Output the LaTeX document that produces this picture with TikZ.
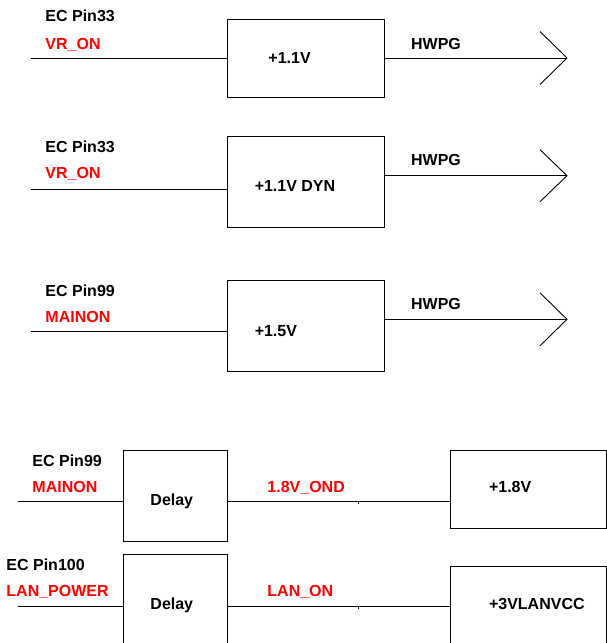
\documentclass[tikz,border=0pt]{standalone}
\usepackage{fontspec}
\setmainfont{Liberation Sans}
\definecolor{sigred}{RGB}{255,0,0}
\begin{document}
\begin{tikzpicture}[x=1pt,y=-1pt,line width=0.9pt,
  box/.style={draw,rectangle,inner sep=0pt},
  lbl/.style={anchor=base west,inner sep=0pt,font=\fontsize{16}{18}\selectfont\bfseries},
  sig/.style={lbl,text=sigred}]
\useasboundingbox (0,0) rectangle (607,643);
\clip (0,0) rectangle (607,643);

% ---------- Block 1 ----------
\node[box,minimum width=156.6pt,minimum height=78pt] (p1) at (306,58) {};
\coordinate (in1) at (31,58);
\coordinate (tip1) at (567,58);
\draw (in1) -- (p1.west);
\draw (p1.east) -- (tip1);
\draw (tip1) ++(-27,-26.5) -- (tip1) -- ++(-27,26.5);
\node[lbl] (t1a) at (45,21.4) {EC Pin33};
\node[sig] (t1b) at (45,49) {VR\_ON};
\node[lbl] (t1c) at (268,63) {+1.1V};
\node[lbl] (t1d) at (410.7,49) {HWPG};

% ---------- Block 2 ----------
\node[box,minimum width=156.6pt,minimum height=91.5pt] (p2) at (306,181.8) {};
\coordinate (in2) at (31,189);
\coordinate (tip2) at (567,175.7);
\draw (in2) -- (in2 -| p2.west);
\draw (tip2 -| p2.east) -- (tip2);
\draw (tip2) ++(-27,-26) -- (tip2) -- ++(-27,26);
\node[lbl] (t2a) at (45,152.4) {EC Pin33};
\node[sig] (t2b) at (45,178.4) {VR\_ON};
\node[lbl] (t2c) at (254.3,191.4) {+1.1V DYN};
\node[lbl] (t2d) at (410.7,165.7) {HWPG};

% ---------- Block 3 ----------
\node[box,minimum width=156.6pt,minimum height=91.3pt] (p3) at (306,325.7) {};
\coordinate (in3) at (31,331.7);
\coordinate (tip3) at (567,319.3);
\draw (in3) -- (in3 -| p3.west);
\draw (tip3 -| p3.east) -- (tip3);
\draw (tip3) ++(-27,-26.5) -- (tip3) -- ++(-27,26.5);
\node[lbl] (t3a) at (45,296.4) {EC Pin99};
\node[sig] (t3b) at (45,322.4) {MAINON};
\node[lbl] (t3c) at (254.3,336.7) {+1.5V};
\node[lbl] (t3d) at (410.7,309.7) {HWPG};

% ---------- Block 4 ----------
\node[box,minimum width=104.6pt,minimum height=91pt] (d1) at (175.3,495.5) {};
\node[box,minimum width=156pt,minimum height=78.3pt] (v1) at (528,489.2) {};
\coordinate (in4) at (18,501.7);
\coordinate (mid4) at (358,501.7);
\draw (in4) -- (in4 -| d1.west);
\draw (d1.east |- mid4) -- (mid4) -- (mid4 -| v1.west);
\draw (mid4) -- ++(0,2);
\node[lbl] (t4a) at (32,466.4) {EC Pin99};
\node[sig] (t4b) at (32,492.4) {MAINON};
\node[lbl] (t4c) at (150,505.7) {Delay};
\node[sig] (t4d) at (267,492.4) {1.8V\_OND};
\node[lbl] (t4e) at (488.6,492.4) {+1.8V};

% ---------- Block 5 ----------
\node[box,minimum width=104.6pt,minimum height=95.7pt] (d2) at (175.3,602.15) {};
\node[box,minimum width=156pt,minimum height=83.3pt] (v2) at (528,608.35) {};
\coordinate (in5) at (18,606.7);
\coordinate (mid5) at (358,606.7);
\draw (in5) -- (in5 -| d2.west);
\draw (d2.east |- mid5) -- (mid5) -- (mid5 -| v2.west);
\draw (mid5) -- ++(0,2);
\node[lbl] (t5a) at (6,570.7) {EC Pin100};
\node[sig] (t5b) at (6,596.4) {LAN\_POWER};
\node[lbl] (t5c) at (150,609) {Delay};
\node[sig] (t5d) at (267,596.4) {LAN\_ON};
\node[lbl] (t5e) at (488.6,609) {+3VLANVCC};
\end{tikzpicture}
\end{document}
